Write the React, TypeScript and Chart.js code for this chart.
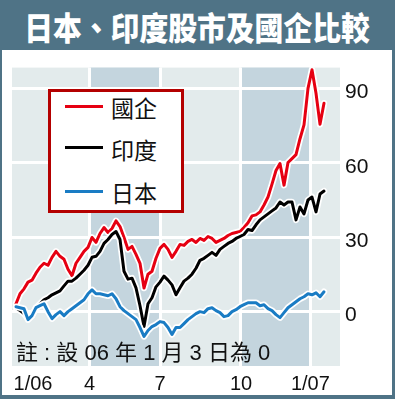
import React, { useEffect, useRef } from 'react';
import { Chart, registerables } from 'chart.js';

Chart.register(...registerables);

// Series values (index change since 3 Jan 2006, sampled ~every 3.5 trading days)
const hkChinaEnt = [3.2, 7.2, 9.2, 11.9, 12.7, 15.5, 17.9, 19.5, 18.7, 21.9,
  24.3, 22.3, 21.1, 17.1, 14.5, 19.5, 21.9, 24.3, 25.9, 29.9,
  27.9, 31.5, 33.9, 31.9, 33.5, 36.6, 34.3, 29.9, 25.1, 26.3,
  23.1, 19.5, 9.5, 15.1, 16.3, 21.5, 25.5, 27.1, 25.1, 21.9,
  24.3, 27.1, 26.7, 28.3, 29.1, 27.9, 29.5, 28.7, 30.3, 29.5,
  27.9, 28.7, 29.5, 30.7, 31.5, 31.9, 32.3, 33.9, 35.8, 38.6,
  39.0, 40.2, 43.0, 46.2, 51.4, 56.9, 59.7, 51.0, 60.1, 61.7,
  63.3, 69.7, 75.3, 90.0, 97.5, 88.0, 75.5, 84.0];
const india = [1.6, 0.4, -0.8, -2.8, -1.6, 1.6, 3.2, 4.8, 5.6, 6.8,
  7.6, 8.4, 10.4, 12.3, 12.3, 13.5, 15.1, 16.7, 18.7, 21.9,
  22.3, 24.3, 27.5, 29.1, 31.1, 32.3, 29.1, 16.3, 13.1, 13.5,
  9.6, 2.4, -6.0, 3.2, 5.6, 10.0, 11.9, 14.3, 12.7, 10.8,
  6.8, 9.6, 12.3, 13.5, 15.1, 17.5, 20.7, 21.5, 22.7, 23.9,
  22.7, 25.1, 26.3, 27.5, 28.3, 29.5, 30.3, 31.1, 33.1, 32.7,
  35.0, 37.0, 38.2, 39.4, 40.6, 41.8, 44.2, 43.0, 44.2, 44.2,
  37.0, 42.2, 39.4, 45.0, 46.2, 40.2, 47.4, 48.6];
const japan = [2.0, 1.6, 1.2, -3.2, -1.6, 1.6, 2.4, 3.2, 0, -2.8,
  -1.2, 0, -1.6, 0, 1.2, 2.4, 3.6, 4.8, 7.2, 8.8,
  7.2, 7.2, 6.8, 6.4, 7.2, 5.2, 2.0, 0.4, -0.8, -2.0,
  -3.2, -6.4, -10.0, -7.6, -6.0, -5.2, -4.0, -4.4, -6.4, -9.2,
  -6.4, -6.4, -4.8, -3.2, -2.0, -0.8, 0, -0.4, 1.2, 1.6,
  0.4, -0.4, -2.0, -1.6, 0, 0.8, 2.0, 2.8, 3.6, 3.6,
  3.6, 2.4, 2.8, 1.2, 0.4, -1.2, -2.4, -0.4, 1.6, 2.8,
  4.0, 5.2, 6.0, 7.2, 6.8, 7.6, 6.0, 8.0];

const seriesNames = ['國企', '印度', '日本'];
const seriesColors = ['#e60012', '#000000', '#1a7cc4'];

// x ticks (in sample-index units) and their labels
const xTickIdx = [4.25, 18.4, 36, 56.25, 73.6];
const xTickLabels = ['1/06', '4', '7', '10', '1/07'];
const yTickValues = [0, 30, 60, 90];
// shaded quarters: Apr–Jul, Oct–Jan
const shadedRanges = [[18.4, 36], [56.25, 73.6]];

const titleText = '日本、印度股市及國企比較';
const noteText = '註 : 設 06 年 1 月 3 日為 0';

const FRAME = '#4f7386';
const PLOT_BG = '#e3ebec';
const BAND_BG = '#c4d5de';

const toPoints = (vals: number[]) => vals.map((v, i) => ({ x: i, y: v }));

const bgPlugin = {
  id: 'plotBg',
  beforeDraw(chart: any) {
    const { ctx, chartArea: a, scales } = chart;
    const x = scales.x;
    ctx.save();
    ctx.fillStyle = PLOT_BG;
    ctx.fillRect(a.left, a.top, a.right - a.left, a.bottom - a.top);
    ctx.fillStyle = BAND_BG;
    for (const [s, e] of shadedRanges) {
      const x0 = x.getPixelForValue(s);
      const x1 = x.getPixelForValue(e);
      ctx.fillRect(x0, a.top, x1 - x0, a.bottom - a.top);
    }
    ctx.restore();
  },
};

export default function App() {
  const ref = useRef<HTMLCanvasElement | null>(null);

  useEffect(() => {
    if (!ref.current) return;
    const line = (data: number[], color: string, width: number, label: string) => ({
      label,
      data: toPoints(data),
      borderColor: color,
      borderWidth: width,
      pointRadius: 0,
      tension: 0,
      fill: false,
      borderJoinStyle: 'round' as const,
      borderCapStyle: 'round' as const,
    });
    const chart = new Chart(ref.current, {
      type: 'line',
      data: {
        datasets: [
          line(japan, seriesColors[2], 3, seriesNames[2]),
          line(japan, '#ffffff', 6.5, seriesNames[2] + ' halo'),
          line(india, seriesColors[1], 3, seriesNames[1]),
          line(india, '#ffffff', 6.5, seriesNames[1] + ' halo'),
          line(hkChinaEnt, seriesColors[0], 3, seriesNames[0]),
          line(hkChinaEnt, '#ffffff', 6.5, seriesNames[0] + ' halo'),
        ],
      },
      options: {
        animation: false,
        responsive: false,
        maintainAspectRatio: false,
        layout: { padding: { left: 10, top: 14, right: 0, bottom: 0 } },
        plugins: { legend: { display: false }, tooltip: { enabled: false } },
        scales: {
          x: {
            type: 'linear',
            min: -1,
            max: 81,
            afterBuildTicks: (scale: any) => {
              scale.ticks = xTickIdx.map((v) => ({ value: v }));
            },
            afterFit: (scale: any) => {
              scale.height = 29;
            },
            grid: {
              color: (ctx: any) =>
                ctx.tick && ctx.tick.value === xTickIdx[0] ? 'rgba(0,0,0,0)' : '#ffffff',
              lineWidth: 3,
              drawTicks: false,
            },
            border: { display: false },
            ticks: {
              autoSkip: false,
              maxRotation: 0,
              minRotation: 0,
              padding: 6,
              color: '#111111',
              font: { family: "'Liberation Sans', Arial, sans-serif", size: 20 },
              callback: (value: any) => {
                const k = xTickIdx.indexOf(Number(value));
                return k >= 0 ? xTickLabels[k] : '';
              },
            },
          },
          y: {
            type: 'linear',
            position: 'right',
            min: -21.9,
            max: 98.36,
            afterBuildTicks: (scale: any) => {
              scale.ticks = yTickValues.map((v) => ({ value: v }));
            },
            afterFit: (scale: any) => {
              scale.width = 52;
            },
            grid: { color: '#ffffff', lineWidth: 3, drawTicks: false },
            border: { display: false },
            ticks: {
              padding: 5,
              labelOffset: 4,
              color: '#111111',
              font: { family: "'Liberation Sans', Arial, sans-serif", size: 21 },
            },
          },
        },
      },
      plugins: [bgPlugin],
    });
    return () => chart.destroy();
  }, []);

  const legendTops = [56.7, 97, 141.3];
  const legendTextTops = [45.9, 87.7, 130.5];

  return (
    <div style={{ position: 'absolute', left: 0, top: 0, width: 395, height: 399, background: FRAME, overflow: 'hidden' }}>
      <div
        style={{
          position: 'absolute', left: 0, top: 1, width: 395, height: 50, lineHeight: '50px',
          textAlign: 'center', color: '#ffffff', fontFamily: "'Noto Sans CJK TC', sans-serif",
          fontWeight: 900, fontSize: 32, whiteSpace: 'nowrap',
        }}
      >
        <span style={{ display: 'inline-block', transform: 'scaleX(0.9)' }}>{titleText}</span>
      </div>
      <div style={{ position: 'absolute', left: 2, top: 50, width: 390, height: 345, background: '#ffffff' }}>
        <canvas ref={ref} width={390} height={345} style={{ display: 'block', width: 390, height: 345 }} />
        <div
          style={{
            position: 'absolute', left: 46, top: 39, width: 136, height: 124, boxSizing: 'border-box',
            border: '3px solid #b40000', background: '#ffffff',
          }}
        />
        {seriesNames.map((name, k) => (
          <React.Fragment key={name}>
            <div style={{ position: 'absolute', left: 63, top: legendTops[k] - 1.5, width: 38, height: 3, background: seriesColors[k] }} />
            <div
              style={{
                position: 'absolute', left: 109, top: legendTextTops[k], fontSize: 23, lineHeight: '23px',
                fontFamily: "'Noto Sans CJK TC', sans-serif", color: '#111111', whiteSpace: 'nowrap',
              }}
            >
              {name}
            </div>
          </React.Fragment>
        ))}
        <div
          style={{
            position: 'absolute', left: 14, top: 292, fontSize: 22, lineHeight: '22px', whiteSpace: 'pre',
            fontFamily: "'Liberation Sans', 'Noto Sans CJK TC', sans-serif", color: '#111111',
          }}
        >
          {noteText}
        </div>
      </div>
    </div>
  );
}
